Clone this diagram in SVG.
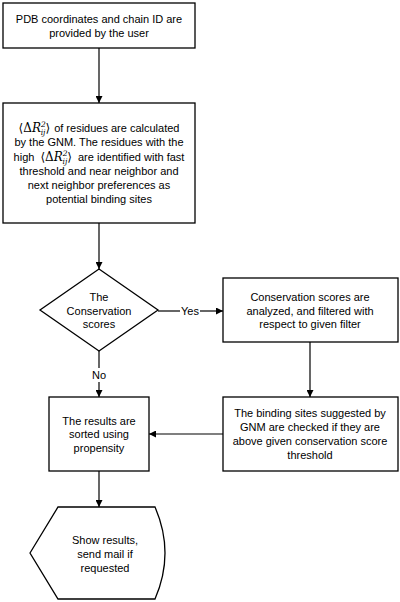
<svg xmlns="http://www.w3.org/2000/svg" width="400" height="602" viewBox="0 0 400 602">
<style>
.box{fill:#fff;stroke:#000;stroke-width:1.3}
.t{font-family:"Liberation Sans",Arial,sans-serif;font-size:11px;fill:#000;text-anchor:middle}
.m{font-family:"DejaVu Serif","Liberation Serif",serif;font-size:12px}
.s{font-size:7.5px;font-style:italic}
.c{fill:none;stroke:#000;stroke-width:1.2}
</style>
<defs>
<marker id="ah" viewBox="0 0 10 10" refX="10" refY="5" markerWidth="7" markerHeight="7" orient="auto" markerUnits="userSpaceOnUse">
<path d="M0,0 L10,5 L0,10 z" fill="#000"/>
</marker>
</defs>
<rect width="400" height="602" fill="#fff"/>
<g id="connectors">
<line class="c" x1="99" y1="48" x2="99" y2="103" marker-end="url(#ah)"/>
<line class="c" x1="99" y1="223" x2="99" y2="269" marker-end="url(#ah)"/>
<line class="c" x1="158" y1="311" x2="180" y2="311"/>
<line class="c" x1="200" y1="311" x2="223" y2="311" marker-end="url(#ah)"/>
<text class="t" x="190" y="315">Yes</text>
<line class="c" x1="99" y1="351" x2="99" y2="368"/>
<line class="c" x1="99" y1="382" x2="99" y2="397" marker-end="url(#ah)"/>
<text class="t" x="99" y="379">No</text>
<line class="c" x1="310" y1="342" x2="310" y2="397" marker-end="url(#ah)"/>
<line class="c" x1="223" y1="434" x2="149" y2="434" marker-end="url(#ah)"/>
<line class="c" x1="99" y1="471" x2="99" y2="507" marker-end="url(#ah)"/>
</g>
<g id="n1">
<rect class="box" x="3" y="3" width="192" height="45"/>
<text class="t" x="99" y="23">PDB coordinates and chain ID are</text>
<text class="t" x="99" y="37">provided by the user</text>
</g>
<g id="n2">
<rect class="box" x="3" y="103" width="192" height="120"/>
<text class="t" x="99" y="132"><tspan class="m">⟨Δ<tspan font-style="italic">R</tspan><tspan class="s" dy="-5">2</tspan><tspan class="s" dx="-5" dy="8">ij</tspan><tspan dy="-3">⟩</tspan></tspan><tspan dx="4">of residues are calculated</tspan></text>
<text class="t" x="99" y="146">by the GNM. The residues with the</text>
<text class="t" x="99" y="161">high<tspan class="m" dx="6">⟨Δ<tspan font-style="italic">R</tspan><tspan class="s" dy="-5">2</tspan><tspan class="s" dx="-5" dy="8">ij</tspan><tspan dy="-3">⟩</tspan></tspan><tspan dx="6">are identified with fast</tspan></text>
<text class="t" x="99" y="175">threshold and near neighbor and</text>
<text class="t" x="99" y="189">next neighbor preferences as</text>
<text class="t" x="99" y="203">potential binding sites</text>
</g>
<g id="n3">
<polygon class="box" points="99,269 158,310 99,351 40,310"/>
<text class="t" x="99" y="301">The</text>
<text class="t" x="99" y="315">Conservation</text>
<text class="t" x="99" y="328">scores</text>
</g>
<g id="n4">
<rect class="box" x="223" y="278" width="175" height="64"/>
<text class="t" x="310" y="301">Conservation scores are</text>
<text class="t" x="310" y="315">analyzed, and filtered with</text>
<text class="t" x="310" y="328">respect to given filter</text>
</g>
<g id="n5">
<rect class="box" x="223" y="397" width="175" height="74"/>
<text class="t" x="310" y="417">The binding sites suggested by</text>
<text class="t" x="310" y="431">GNM are checked if they are</text>
<text class="t" x="310" y="445">above given conservation score</text>
<text class="t" x="310" y="459">threshold</text>
</g>
<g id="n6">
<rect class="box" x="49" y="397" width="100" height="74"/>
<text class="t" x="99" y="425">The results are</text>
<text class="t" x="99" y="438">sorted using</text>
<text class="t" x="99" y="452">propensity</text>
</g>
<g id="n7">
<path class="box" d="M30,553 L58,507 L155,507 Q175,553 155,599 L58,599 Z"/>
<text class="t" x="105" y="544">Show results,</text>
<text class="t" x="105" y="558">send mail if</text>
<text class="t" x="105" y="572">requested</text>
</g>
</svg>
